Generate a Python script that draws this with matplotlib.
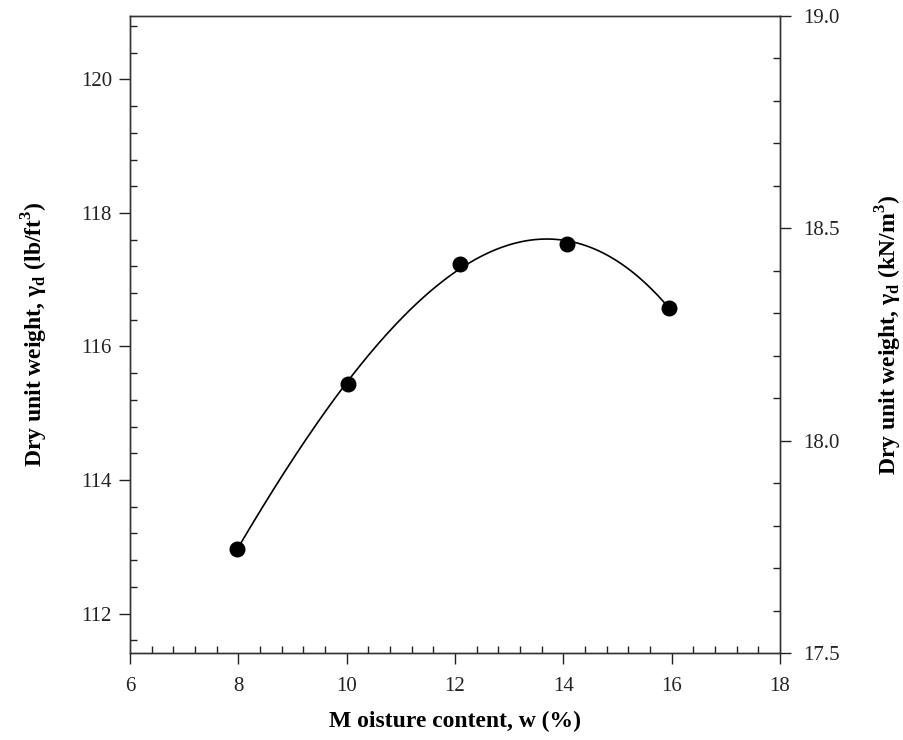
import matplotlib
matplotlib.use('Agg')
import matplotlib.pyplot as plt
from matplotlib.ticker import MultipleLocator
import numpy as np

# Данные: влажность (%) и сухой удельный вес (lb/ft3)
moisture = [7.97, 10.02, 12.1, 14.06, 15.96]
dry_weight_pcf = [112.96, 115.44, 117.23, 117.54, 116.58]

PCF_PER_KNM3 = 6.366  # 1 kN/m3 = 6.366 lb/ft3
kn_lim = (17.5, 19.0)

plt.rcParams['font.family'] = 'Liberation Serif'
plt.rcParams['mathtext.fontset'] = 'custom'
plt.rcParams['mathtext.rm'] = 'Liberation Serif:bold'
plt.rcParams['mathtext.bf'] = 'Liberation Serif:bold'

fig = plt.figure(figsize=(9.04, 7.4), dpi=100)
ax = fig.add_axes([0.1438, 0.1172, 0.719, 0.8616])

# Сглаживающая кривая (полином 3-й степени по точкам)
coef = np.polyfit(moisture, dry_weight_pcf, 3)
xs = np.linspace(moisture[0], moisture[-1], 200)
ax.plot(xs, np.polyval(coef, xs), color='black', linewidth=1.2)
ax.plot(moisture, dry_weight_pcf, 'o', color='black', markersize=10.5)

ax.set_xlim(6, 18)
ax.set_ylim(kn_lim[0] * PCF_PER_KNM3, kn_lim[1] * PCF_PER_KNM3)
ax.xaxis.set_major_locator(MultipleLocator(2))
ax.xaxis.set_minor_locator(MultipleLocator(0.4))
ax.yaxis.set_major_locator(MultipleLocator(2))
ax.yaxis.set_minor_locator(MultipleLocator(0.4))

ax2 = ax.twinx()
ax2.set_ylim(*kn_lim)
ax2.yaxis.set_major_locator(MultipleLocator(0.5))
ax2.yaxis.set_minor_locator(MultipleLocator(0.1))
ax2.yaxis.set_major_formatter(plt.FormatStrFormatter('%.1f'))

for a in (ax, ax2):
    a.tick_params(which='major', direction='out', length=8, width=1,
                  labelsize=15, colors='#222222', pad=5)
    a.tick_params(which='minor', direction='in', length=5, width=1, color='#222222')
    for s in a.spines.values():
        s.set_linewidth(1.0)
        s.set_color('#333333')
ax.tick_params(axis='x', pad=9)
ax2.tick_params(axis='y', pad=9)

ax.set_xlabel('M oisture content, w (%)', fontsize=17, fontweight='bold')
ax.set_ylabel('Dry unit weight, γ$_\\mathrm{d}$ (lb/ft$^\\mathrm{3}$)',
              fontsize=17, fontweight='bold')
ax2.set_ylabel('Dry unit weight, γ$_\\mathrm{d}$ (kN/m$^\\mathrm{3}$)',
               fontsize=17, fontweight='bold')

ax.xaxis.set_label_coords(0.5, -0.107)
ax.xaxis.label.set_va('center')
ax.yaxis.set_label_coords(-0.147, 0.5)
ax.yaxis.label.set_va('center')
ax2.yaxis.set_label_coords(1.167, 0.5)
ax2.yaxis.label.set_va('center')

fig.savefig('out.png', dpi=100)
